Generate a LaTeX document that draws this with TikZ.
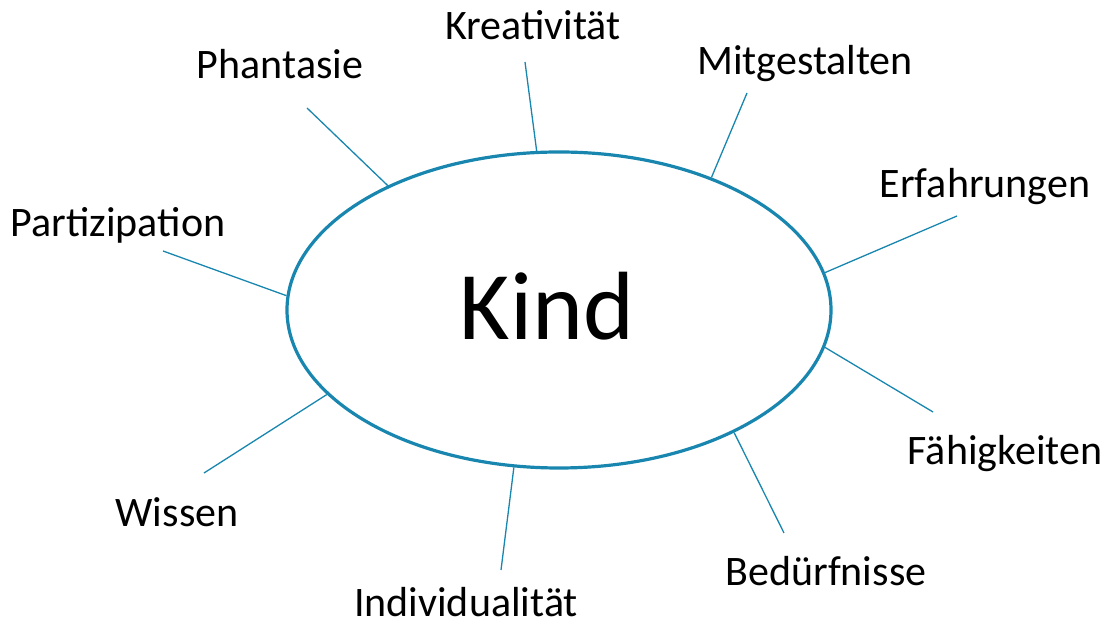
\documentclass[tikz,border=0pt]{standalone}
\usepackage{fontspec}
\setmainfont{Carlito}
\usetikzlibrary{shapes.geometric}

\definecolor{kindblue}{RGB}{24,134,174}

\tikzset{
  center/.style={ellipse,draw=kindblue,line width=3.2pt,minimum width=544pt,minimum height=316pt,inner sep=0pt},
  word/.style={anchor=base,inner sep=0pt,font=\fontsize{42}{50}\selectfont},
  spoke/.style={draw=kindblue,line width=1.3pt}
}

\begin{document}
\begin{tikzpicture}[x=1pt,y=1pt]
\useasboundingbox (0,0) rectangle (1109,628);

\node [center] (kind) at (559,318) {};
\node [anchor=base,inner sep=0pt,font=\fontsize{97}{116}\selectfont] (kindtext) at (547,288) {Kind};

% outer ends of the spokes
\coordinate (kre) at (525,566);
\coordinate (mit) at (747,535);
\coordinate (erf) at (957,412);
\coordinate (fae) at (933,216);
\coordinate (bed) at (784,95);
\coordinate (ind) at (501,58);
\coordinate (wis) at (204,155);
\coordinate (par) at (163,377);
\coordinate (pha) at (307,520);

\node [word] (kreativ) at (533,588) {Kreativität};
\node [word] (mitgest) at (805,553) {Mitgestalten};
\node [word] (erfahr) at (985,430) {Erfahrungen};
\node [word] (faehig) at (1005,163) {Fähigkeiten};
\node [word] (beduerf) at (826,42) {Bedürfnisse};
\node [word] (indiv) at (466,11) {Individualität};
\node [word] (wissen) at (177,101) {Wissen};
\node [word] (partiz) at (118,391) {Partizipation};
\node [word] (phant) at (280,549) {Phantasie};

\foreach \ang/\tip in {98.3/kre,41.1/mit,8.5/erf,-8.5/fae,-35.4/bed,254.7/ind,200.1/wis,177.3/par,144.3/pha}
  \path [spoke] (kind.\ang) -- (\tip);

\end{tikzpicture}
\end{document}
